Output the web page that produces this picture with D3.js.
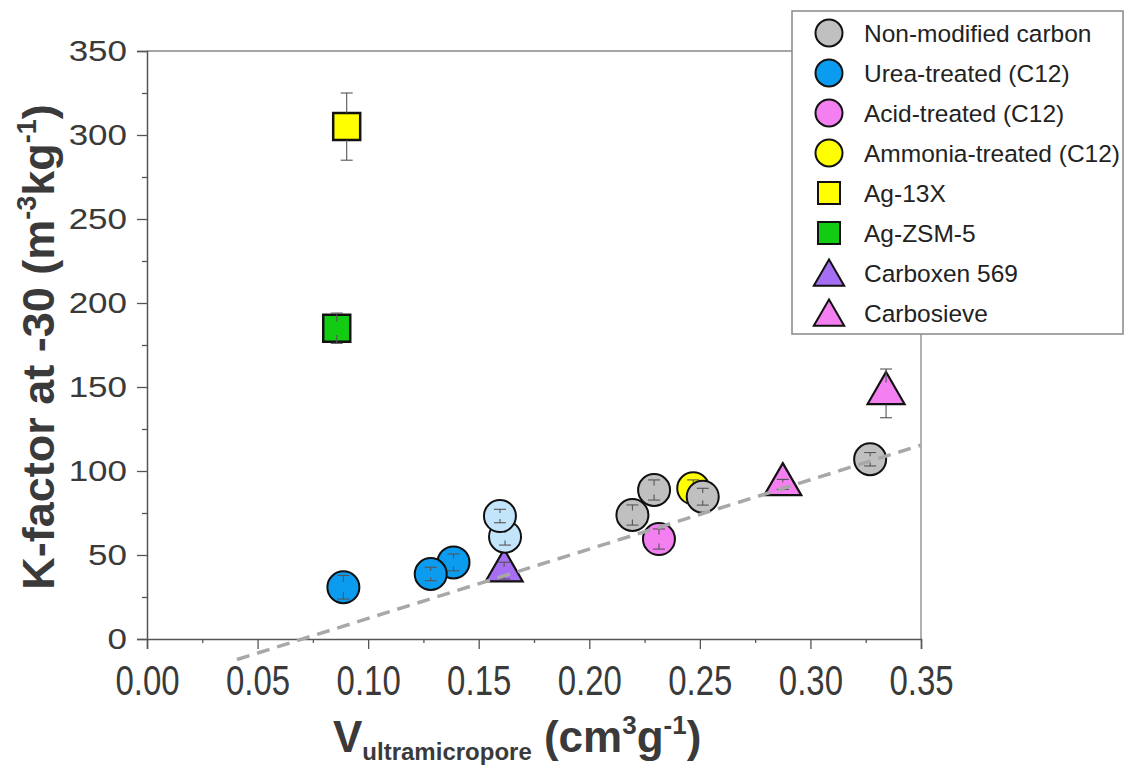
<!DOCTYPE html>
<html>
<head>
<meta charset="utf-8">
<script src="https://cdn.jsdelivr.net/npm/d3@7"></script>
<style>
  body { margin: 0; background: #fff; }
  svg { display: block; font-family: "Liberation Sans", Arial, sans-serif; }
</style>
</head>
<body>
<svg width="1124" height="767"></svg>
<script>
// values
var xTicks = [0, 0.05, 0.10, 0.15, 0.20, 0.25, 0.30, 0.35];
var yTicks = [0, 50, 100, 150, 200, 250, 300, 350];

var nonModX = [0.2195, 0.2293, 0.2513, 0.327];
var nonModK = [73.8, 88.7, 84.7, 107];
var nonModErr = [6, 6, 5, 4];

var ureaX = [0.0888, 0.1386, 0.1283];
var ureaK = [30.8, 45.6, 38.7];
var ureaErr = [7, 5, 4];

var lightBlueX = [0.1619, 0.1596];
var lightBlueK = [60.9, 73.2];
var lightBlueErr = [5, 4];

var acidX = [0.2315];
var acidK = [59.5];
var acidErr = [6];

var ammoniaX = [0.247];
var ammoniaK = [89.7];
var ammoniaErr = [5];

var ag13xX = [0.0903];
var ag13xK = [305];
var ag13xErr = [20];

var agZsmX = [0.0858];
var agZsmK = [185];
var agZsmErr = [9];

var carboxenX = [0.1615];
var carboxenK = [40.7];
var carboxenErr = [5];

var carbosieveX = [0.2875, 0.3342];
var carbosieveK = [92, 146.2];
var carbosieveErr = [3, 14.5];

var fitX = [0.0407, 0.35];
var fitK = [-12.2, 115.4];

var legendLabels = ["Non-modified carbon", "Urea-treated (C12)", "Acid-treated (C12)",
  "Ammonia-treated (C12)", "Ag-13X", "Ag-ZSM-5", "Carboxen 569", "Carbosieve"];

var svg = d3.select("svg");
var pLeft = 147, pRight = 921, pTop = 51, pBottom = 639;

var x = d3.scaleLinear().domain([0, 0.35]).range([pLeft, pRight]);
var y = d3.scaleLinear().domain([0, 350]).range([pBottom, pTop]);

var axisCol = "#555", textCol = "#3a3a3a";

// frame (top + right)
svg.append("line").attr("x1", pLeft).attr("x2", pRight).attr("y1", pTop).attr("y2", pTop)
  .attr("stroke", "#888").attr("stroke-width", 1.3);
svg.append("line").attr("x1", pRight).attr("x2", pRight).attr("y1", pTop).attr("y2", pBottom)
  .attr("stroke", "#888").attr("stroke-width", 1.3);

// x axis
var xAxis = d3.axisBottom(x).tickValues(xTicks).tickSize(10).tickPadding(8)
  .tickFormat(d3.format(".2f"));
var gx = svg.append("g").attr("transform", "translate(0," + pBottom + ")").call(xAxis);
gx.select(".domain").attr("stroke", axisCol).attr("stroke-width", 1.5);
gx.selectAll(".tick line").attr("stroke", axisCol).attr("stroke-width", 1.3);
gx.selectAll(".tick text").attr("font-size", 33).attr("fill", textCol)
  .attr("font-family", "Liberation Sans, Arial, sans-serif")
  .attr("transform", "translate(0,2) scale(1,1.3)");
var gxm = svg.append("g").attr("transform", "translate(0," + pBottom + ")")
  .call(d3.axisBottom(x).tickValues(d3.range(0.025, 0.35, 0.05)).tickSize(4).tickFormat(""));
gxm.select(".domain").remove();
gxm.selectAll(".tick line").attr("stroke", axisCol).attr("stroke-width", 1.3);

// y axis
var yAxis = d3.axisLeft(y).tickValues(yTicks).tickSize(10).tickPadding(10);
var gy = svg.append("g").attr("transform", "translate(" + pLeft + ",0)").call(yAxis);
gy.select(".domain").attr("stroke", axisCol).attr("stroke-width", 1.5);
gy.selectAll(".tick line").attr("stroke", axisCol).attr("stroke-width", 1.3);
gy.selectAll(".tick text").attr("font-size", 35).attr("fill", textCol)
  .attr("font-family", "Liberation Sans, Arial, sans-serif")
  .attr("transform", "scale(1,0.85)");
var gym = svg.append("g").attr("transform", "translate(" + pLeft + ",0)")
  .call(d3.axisLeft(y).tickValues(d3.range(25, 350, 50)).tickSize(5).tickFormat(""));
gym.select(".domain").remove();
gym.selectAll(".tick line").attr("stroke", axisCol).attr("stroke-width", 1.3);

// axis titles
var yt = svg.append("text").attr("transform", "translate(54,347) rotate(-90)")
  .attr("text-anchor", "middle").attr("font-weight", "bold").attr("font-size", 45)
  .attr("fill", textCol);
yt.append("tspan").text("K-factor at -30 (m");
yt.append("tspan").attr("font-size", 27).attr("dy", -18).text("-3");
yt.append("tspan").attr("dy", 18).text("kg");
yt.append("tspan").attr("font-size", 27).attr("dy", -18).text("-1");
yt.append("tspan").attr("dy", 18).text(")");

var xt = svg.append("text").attr("x", 333).attr("y", 752)
  .attr("font-weight", "bold").attr("font-size", 44).attr("fill", textCol);
xt.append("tspan").text("V");
xt.append("tspan").attr("font-size", 24).attr("dy", 8).text("ultramicropore");
xt.append("tspan").attr("dy", -8).text(" (cm");
xt.append("tspan").attr("font-size", 26).attr("dy", -18).text("3");
xt.append("tspan").attr("dy", 18).text("g");
xt.append("tspan").attr("font-size", 26).attr("dy", -18).text("-1");
xt.append("tspan").attr("dy", 18).text(")");

// markers
var circle = d3.symbol().type(d3.symbolCircle).size(Math.PI * 16 * 16);
var square = d3.symbol().type(d3.symbolSquare).size(27 * 27);
var triangle = d3.symbol().type(d3.symbolTriangle).size(592);

function series(xs, ks, errs, sym, half, fill, sw) {
  xs.forEach(function (v, i) {
    var cx = x(v), cy = y(ks[i]);
    var g = svg.append("g").attr("transform", "translate(" + cx + "," + cy + ")");
    g.append("path").attr("d", sym()).attr("fill", fill)
      .attr("stroke", "#111").attr("stroke-width", sw);
    var e = y(0) - y(errs[i]);
    var gap = e > half + 2 ? half : e * 0.45;
    [-1, 1].forEach(function (s) {
      g.append("line").attr("x1", 0).attr("x2", 0).attr("y1", s * e).attr("y2", s * gap)
        .attr("stroke", "#555").attr("stroke-width", 1.1);
      g.append("line").attr("x1", -6).attr("x2", 6).attr("y1", s * e).attr("y2", s * e)
        .attr("stroke", "#555").attr("stroke-width", 1.1);
    });
  });
}

var cGray = "#c0c0c0", cBlue = "#0b9bef", cLight = "#c2e5fb", cPink = "#f47ff0",
  cYellow = "#ffff00", cGreen = "#12cc12", cPurple = "#a66ef2";

series(ag13xX, ag13xK, ag13xErr, square, 13.5, cYellow, 2.5);
series(agZsmX, agZsmK, agZsmErr, square, 13.5, cGreen, 2.5);
series(carboxenX, carboxenK, carboxenErr, triangle, 11, cPurple, 2.2);
series(carbosieveX, carbosieveK, carbosieveErr, triangle, 11, cPink, 2.2);
series(ureaX, ureaK, ureaErr, circle, 16, cBlue, 2);
series(lightBlueX, lightBlueK, lightBlueErr, circle, 16, cLight, 2);
series(acidX, acidK, acidErr, circle, 16, cPink, 2);
series(ammoniaX, ammoniaK, ammoniaErr, circle, 16, cYellow, 2);
series(nonModX, nonModK, nonModErr, circle, 16, cGray, 2);

// fitted trend line, on top of the markers
svg.append("path")
  .datum(fitX.map(function (v, i) { return [v, fitK[i]]; }))
  .attr("d", d3.line().x(function (d) { return x(d[0]); }).y(function (d) { return y(d[1]); }))
  .attr("fill", "none").attr("stroke", "#a8a8a8").attr("stroke-width", 3.5)
  .attr("stroke-dasharray", "13,8");

// legend
var leg = svg.append("g");
leg.append("rect").attr("x", 792).attr("y", 11).attr("width", 331).attr("height", 323)
  .attr("fill", "#fff").attr("stroke", "#888").attr("stroke-width", 1.5);
var legSym = [null, null, null, null,
  d3.symbol().type(d3.symbolSquare).size(22 * 22), d3.symbol().type(d3.symbolSquare).size(22 * 22),
  d3.symbol().type(d3.symbolTriangle).size(400), d3.symbol().type(d3.symbolTriangle).size(400)];
var legFill = [cGray, cBlue, cPink, cYellow, cYellow, cGreen, cPurple, cPink];
var ly = d3.scalePoint().domain(legendLabels).range([33, 313]);
legendLabels.forEach(function (name, i) {
  var sym = i < 4 ? d3.symbol().type(d3.symbolCircle).size(Math.PI * 13.5 * 13.5) : legSym[i];
  var dy = i >= 6 ? 4 : 0;
  leg.append("path").attr("d", sym())
    .attr("transform", "translate(829," + (ly(name) + dy) + ")")
    .attr("fill", legFill[i]).attr("stroke", "#111").attr("stroke-width", 2);
  leg.append("text").attr("x", 864).attr("y", ly(name)).attr("dy", "0.35em")
    .attr("font-size", 24.5).attr("fill", "#222").text(name);
});
</script>
</body>
</html>
